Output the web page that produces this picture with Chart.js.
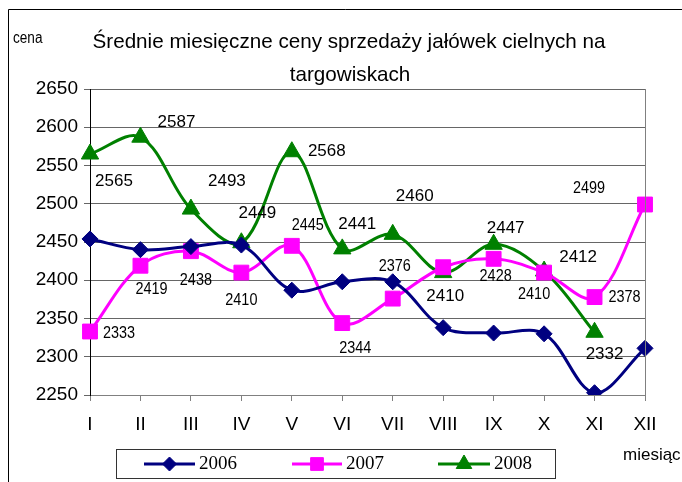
<!DOCTYPE html>
<html>
<head>
<meta charset="utf-8">
<script src="https://cdn.jsdelivr.net/npm/chart.js@4"></script>
<style>
  html, body { margin: 0; padding: 0; background: #fff; }
  canvas { display: block; }
</style>
</head>
<body>
<canvas id="wykres" width="682" height="482"></canvas>
<script>
// dane z wykresu
const miesiace = ['I', 'II', 'III', 'IV', 'V', 'VI', 'VII', 'VIII', 'IX', 'X', 'XI', 'XII'];
const ceny2006 = [2454, 2440, 2444, 2446, 2387, 2398, 2398, 2338, 2331, 2330, 2253, 2311];
const ceny2007 = [2333, 2419, 2438, 2410, 2445, 2344, 2376, 2417, 2428, 2410, 2378, 2499];
const ceny2008 = [2565, 2587, 2493, 2449, 2568, 2441, 2460, 2410, 2447, 2412, 2332, null];
const osY = { min: 2250, max: 2650, krok: 50 };

const tytul = ['Średnie miesięczne ceny sprzedaży jałówek cielnych na', 'targowiskach'];

// kolory
const granat = '#000080';
const magenta = '#FF00FF';
const zielony = '#008000';

// przesuniecia etykiet danych (px od punktu), null = bez etykiety
const etykiety2007 = [[29, 2], [11, 24], [5, 29], [0, 28], [16, -21], [13, 25], [2, -32], null, [2, 17], [-10, 22], [30, 0], [-56, -16]];
const etykiety2008 = [[24, 27], [36, -15], [36, -28], [16, -29], [35, 0], [15, -25], [22, -38], [2, 24], [12, -16], [34, -14], [10, 22], null];

function tekst(ctx, s, x, y, font, sx, align) {
  ctx.save();
  ctx.font = font;
  ctx.fillStyle = '#000';
  ctx.textBaseline = 'middle';
  ctx.textAlign = align || 'center';
  ctx.translate(x, y);
  ctx.scale(sx, 1);
  ctx.fillText(s, 0, 0);
  ctx.restore();
}

function znacznik(ctx, styl, r, x, y, kolor) {
  ctx.save();
  ctx.fillStyle = kolor;
  ctx.strokeStyle = kolor;
  ctx.lineWidth = 1;
  Chart.helpers.drawPoint(ctx, { pointStyle: styl, radius: r, borderWidth: 1 }, x, y);
  ctx.restore();
}

const ramka = {
  id: 'ramka',
  beforeDraw(chart) {
    const ctx = chart.ctx;
    ctx.save();
    ctx.fillStyle = '#fff';
    ctx.fillRect(0, 0, chart.width, chart.height);
    ctx.strokeStyle = '#000';
    ctx.lineWidth = 1;
    ctx.beginPath();
    ctx.moveTo(8.5, 482);
    ctx.lineTo(8.5, 9.5);
    ctx.lineTo(682, 9.5);
    ctx.stroke();
    ctx.restore();
  },
  afterDraw(chart) {
    const ctx = chart.ctx;
    const a = chart.chartArea;
    // prawa krawedz obszaru wykresu
    ctx.save();
    ctx.strokeStyle = '#808080';
    ctx.lineWidth = 1;
    ctx.beginPath();
    ctx.moveTo(Math.round(a.right) + 0.5, a.top);
    ctx.lineTo(Math.round(a.right) + 0.5, a.bottom);
    ctx.stroke();
    ctx.restore();

    // tytul, szerokosc dopasowana do oryginalu
    ctx.save();
    ctx.font = '21px "Liberation Sans", Arial, sans-serif';
    const sx = 513 / ctx.measureText(tytul[0]).width;
    ctx.restore();
    tekst(ctx, tytul[0], 349, 42, '21px "Liberation Sans", Arial, sans-serif', sx);
    tekst(ctx, tytul[1], 350, 75, '21px "Liberation Sans", Arial, sans-serif', sx);
    tekst(ctx, 'cena', 13, 39, '16px "Liberation Sans", Arial, sans-serif', 0.85, 'left');
    tekst(ctx, 'miesiąc', 623, 455, '17px "Liberation Sans", Arial, sans-serif', 1, 'left');

    // etykiety danych
    const serie = [[1, etykiety2007, ceny2007, '17px "Liberation Sans", Arial, sans-serif', 0.85],
                   [2, etykiety2008, ceny2008, '17px "Liberation Sans", Arial, sans-serif', 1]];
    serie.forEach(([i, off, dane, font, skala]) => {
      const meta = chart.getDatasetMeta(i);
      meta.data.forEach((p, j) => {
        if (!off[j] || dane[j] == null) return;
        tekst(ctx, String(dane[j]), p.x + off[j][0], p.y + off[j][1], font, skala);
      });
    });

    // legenda
    ctx.save();
    ctx.strokeStyle = '#333';
    ctx.lineWidth = 1;
    ctx.strokeRect(116.5, 449.5, 439, 29);
    const wpisy = [['2006', granat, 'rectRot', 7, 144, 195], ['2007', magenta, 'rect', 9, 292, 342], ['2008', zielony, 'triangle', 9, 438, 490]];
    wpisy.forEach(([nazwa, kolor, styl, r, x1, x2]) => {
      ctx.strokeStyle = kolor;
      ctx.lineWidth = 3;
      ctx.beginPath();
      ctx.moveTo(x1, 464);
      ctx.lineTo(x2, 464);
      ctx.stroke();
      znacznik(ctx, styl, r, (x1 + x2) / 2, 464, kolor);
      tekst(ctx, nazwa, x2 + 4, 464, '19px "Liberation Serif", "Times New Roman", serif', 1, 'left');
    });
    ctx.restore();
  }
};

const konfiguracja = {
  type: 'line',
  data: {
    labels: miesiace,
    datasets: [
      { label: '2006', data: ceny2006, borderColor: granat, backgroundColor: granat, borderWidth: 3,
        pointStyle: 'rectRot', pointRadius: 8, pointBorderWidth: 1, tension: 0.35 },
      { label: '2007', data: ceny2007, borderColor: magenta, backgroundColor: magenta, borderWidth: 3,
        pointStyle: 'rect', pointRadius: 10.5, pointBorderWidth: 1, tension: 0.35 },
      { label: '2008', data: ceny2008, borderColor: zielony, backgroundColor: zielony, borderWidth: 3,
        pointStyle: 'triangle', pointRadius: 10, pointBorderWidth: 1, tension: 0.35 }
    ]
  },
  options: {
    responsive: false,
    animation: false,
    devicePixelRatio: 1,
    layout: { padding: { top: 89, right: 37, bottom: 0, left: 0 } },
    plugins: { legend: { display: false }, title: { display: false }, tooltip: { enabled: false } },
    scales: {
      x: {
        offset: false,
        afterFit(scale) { scale.height = 87; },
        grid: { drawOnChartArea: false, drawTicks: true, tickLength: 6, color: '#808080' },
        border: { color: '#808080', width: 1 },
        ticks: { color: '#000', padding: 12, maxRotation: 0, autoSkip: false,
                 font: { family: '"Liberation Sans", Arial, sans-serif', size: 19 } }
      },
      y: {
        min: osY.min,
        max: osY.max,
        afterFit(scale) { scale.width = 90; },
        grid: { color: '#666', tickLength: 6 },
        border: { color: '#000', width: 1 },
        ticks: { stepSize: osY.krok, color: '#000', padding: 6,
                 callback: (v) => String(v),
                 font: { family: '"Liberation Sans", Arial, sans-serif', size: 19 } }
      }
    }
  },
  plugins: [ramka]
};

new Chart(document.getElementById('wykres'), konfiguracja);
</script>
</body>
</html>
